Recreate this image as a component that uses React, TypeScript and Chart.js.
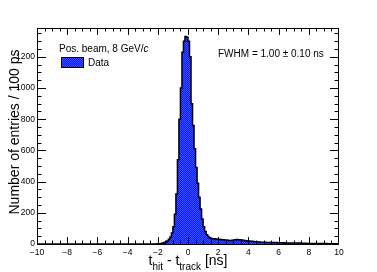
import React, { useEffect, useRef } from 'react';
import { Chart, registerables } from 'chart.js';

Chart.register(...registerables);

// ---- data ----
const X_MIN = -10;
const X_MAX = 10;
const BIN_WIDTH = 0.1; // 100 ps
const Y_MAX = 1385;

// entries per 100 ps bin, bins from -10 ns to +10 ns
const counts: number[] = [
  0, 0, 0, 0, 0, 0, 0, 0, 0, 0,
  0, 0, 0, 0, 0, 0, 0, 0, 0, 0,
  0, 0, 0, 0, 0, 0, 0, 0, 0, 0,
  0, 0, 0, 0, 0, 0, 0, 0, 0, 0,
  0, 0, 0, 0, 0, 0, 0, 0, 0, 0,
  0, 0, 0, 0, 0, 0, 0, 0, 0, 0,
  0, 0, 0, 0, 0, 0, 0, 0, 0, 0,
  0, 0, 0, 0, 0, 0, 0, 0, 0, 1,
  1, 2, 4, 6, 9, 13, 20, 30, 45, 70,
  110, 190, 320, 540, 800, 1000, 1230, 1300, 1330, 1325,
  1300, 1200, 900, 760, 610, 490, 390, 300, 225, 160,
  110, 80, 60, 48, 40, 36, 34, 33, 32, 31,
  30, 29, 28, 27, 26, 25, 24, 23, 23, 24,
  26, 28, 29, 28, 27, 26, 24, 22, 21, 20,
  19, 18, 17, 16, 15, 14, 13, 13, 12, 12,
  11, 11, 10, 10, 10, 9, 9, 9, 9, 8,
  8, 8, 8, 7, 8, 7, 7, 7, 6, 7,
  6, 6, 6, 5, 6, 5, 5, 5, 5, 4,
  4, 4, 4, 3, 4, 3, 3, 3, 3, 3,
  2, 3, 2, 2, 2, 2, 2, 1, 2, 1,
];

const X_TICKS = [-10, -8, -6, -4, -2, 0, 2, 4, 6, 8, 10];
const X_MINOR_STEP = 0.5;
const Y_TICKS = [0, 200, 400, 600, 800, 1000, 1200];
const Y_MINOR_STEP = 50;

const LEGEND_HEADER = 'Pos. beam, 8 GeV/';
const LEGEND_HEADER_ITALIC = 'c';
const LEGEND_LABEL = 'Data';
const FWHM_TEXT = 'FWHM = 1.00 \u00b1 0.10 ns';
const Y_TITLE = 'Number of entries / 100 ps';

const FONT = '"Liberation Sans", Arial, Helvetica, sans-serif';

function makePattern(): CanvasPattern | string {
  const c = document.createElement('canvas');
  c.width = 2;
  c.height = 2;
  const g = c.getContext('2d');
  if (!g) return '#1428ff';
  g.fillStyle = '#0d1cff';
  g.fillRect(0, 0, 2, 2);
  g.fillStyle = '#3a50ff';
  g.fillRect(0, 0, 1, 1);
  g.fillRect(1, 1, 1, 1);
  const p = g.createPattern(c, 'repeat');
  return p || '#1428ff';
}

export default function App() {
  const ref = useRef<HTMLCanvasElement | null>(null);

  useEffect(() => {
    document.body.style.margin = '0';
    const canvas = ref.current;
    if (!canvas) return;
    const pattern = makePattern();

    const outline = counts.flatMap((c, i) => [
      { x: X_MIN + i * BIN_WIDTH, y: c },
      { x: X_MIN + (i + 1) * BIN_WIDTH, y: c },
    ]);

    const overlay = {
      id: 'rootStyle',
      afterDraw(chart: any) {
        const { ctx, chartArea: a } = chart;
        const xs = chart.scales.x;
        const ys = chart.scales.y;
        ctx.save();
        ctx.strokeStyle = '#000';
        ctx.lineWidth = 1;

        // frame
        ctx.strokeRect(Math.round(a.left) + 0.5, Math.round(a.top) + 0.5, Math.round(a.width) - 1, Math.round(a.height));

        // ticks
        ctx.beginPath();
        const nx = Math.round((X_MAX - X_MIN) / X_MINOR_STEP);
        for (let k = 1; k < nx; k++) {
          const v = X_MIN + k * X_MINOR_STEP;
          const isMajor = X_TICKS.some((t) => Math.abs(t - v) < 1e-6);
          const len = isMajor ? 7 : 3.5;
          const px = Math.round(xs.getPixelForValue(v)) + 0.5;
          ctx.moveTo(px, a.bottom);
          ctx.lineTo(px, a.bottom - len);
          ctx.moveTo(px, a.top);
          ctx.lineTo(px, a.top + len);
        }
        const ny = Math.floor(Y_MAX / Y_MINOR_STEP);
        for (let k = 1; k <= ny; k++) {
          const v = k * Y_MINOR_STEP;
          const isMajor = Y_TICKS.includes(v);
          const len = isMajor ? 9 : 4.5;
          const py = Math.round(ys.getPixelForValue(v)) + 0.5;
          ctx.moveTo(a.left, py);
          ctx.lineTo(a.left + len, py);
          ctx.moveTo(a.right, py);
          ctx.lineTo(a.right - len, py);
        }
        ctx.stroke();

        ctx.fillStyle = '#000';
        ctx.textBaseline = 'alphabetic';

        // x title: t_hit - t_track [ns]
        const mainF = `14px ${FONT}`;
        const subF = `10px ${FONT}`;
        const parts: [string, string, number][] = [
          ['t', mainF, 0],
          ['hit', subF, 4.5],
          [' - t', mainF, 0],
          ['track', subF, 4.5],
          [' [ns]', mainF, 0],
        ];
        let total = 0;
        for (const [s, f] of parts) {
          ctx.font = f;
          total += ctx.measureText(s).width;
        }
        let cx = (a.left + a.right) / 2 - total / 2;
        const baseY = 265;
        for (const [s, f, dy] of parts) {
          ctx.font = f;
          ctx.textAlign = 'left';
          ctx.fillText(s, cx, baseY + dy);
          cx += ctx.measureText(s).width;
        }

        // y title
        ctx.save();
        ctx.translate(19, (a.top + a.bottom) / 2 - 4);
        ctx.rotate(-Math.PI / 2);
        ctx.font = mainF;
        ctx.textAlign = 'center';
        ctx.fillText(Y_TITLE, 0, 0);
        ctx.restore();

        // legend
        ctx.font = `10px ${FONT}`;
        ctx.textAlign = 'left';
        const hx = a.left + 22;
        ctx.fillText(LEGEND_HEADER, hx, 52);
        const hw = ctx.measureText(LEGEND_HEADER).width;
        ctx.font = `italic 10px ${FONT}`;
        ctx.fillText(LEGEND_HEADER_ITALIC, hx + hw, 52);

        ctx.fillStyle = pattern as any;
        ctx.fillRect(61, 57, 22, 10);
        ctx.strokeRect(61.5, 57.5, 22, 10);
        ctx.fillStyle = '#000';
        ctx.font = `10px ${FONT}`;
        ctx.fillText(LEGEND_LABEL, 88, 66);

        // FWHM
        ctx.font = `10px ${FONT}`;
        ctx.fillText(FWHM_TEXT, 218, 57);

        ctx.restore();
      },
    };

    const fmt = (v: number | string) => {
      const n = Number(v);
      return n < 0 ? '\u2212' + Math.abs(n) : String(n);
    };

    const chart = new Chart(canvas, {
      type: 'line',
      data: {
        datasets: [
          {
            data: outline,
            parsing: false,
            borderColor: '#000',
            borderWidth: 1.5,
            backgroundColor: pattern as any,
            fill: 'origin',
            pointRadius: 0,
            tension: 0,
          } as any,
        ],
      },
      options: {
        responsive: false,
        animation: false,
        devicePixelRatio: 1,
        events: [],
        layout: { padding: { left: 0, top: 28, right: 38, bottom: 0 } },
        plugins: { legend: { display: false }, tooltip: { enabled: false } },
        scales: {
          x: {
            type: 'linear',
            min: X_MIN,
            max: X_MAX,
            afterFit: (s: any) => {
              s.height = 28;
            },
            afterBuildTicks: (s: any) => {
              s.ticks = X_TICKS.map((v) => ({ value: v }));
            },
            grid: { display: false, drawTicks: false },
            border: { display: false },
            ticks: {
              font: { family: FONT, size: 8.5 },
              color: '#000',
              padding: 4,
              maxRotation: 0,
              autoSkip: false,
              callback: fmt,
            },
          },
          y: {
            type: 'linear',
            min: 0,
            max: Y_MAX,
            afterFit: (s: any) => {
              s.width = 37;
            },
            afterBuildTicks: (s: any) => {
              s.ticks = Y_TICKS.map((v) => ({ value: v }));
            },
            grid: { display: false, drawTicks: false },
            border: { display: false },
            ticks: {
              font: { family: FONT, size: 8.5 },
              color: '#000',
              padding: 2,
              autoSkip: false,
              callback: fmt,
            },
          },
        },
      } as any,
      plugins: [overlay],
    });

    return () => chart.destroy();
  }, []);

  return (
    <div style={{ width: 377, height: 272, background: '#fff' }}>
      <canvas ref={ref} width={377} height={272} style={{ display: 'block' }} />
    </div>
  );
}
